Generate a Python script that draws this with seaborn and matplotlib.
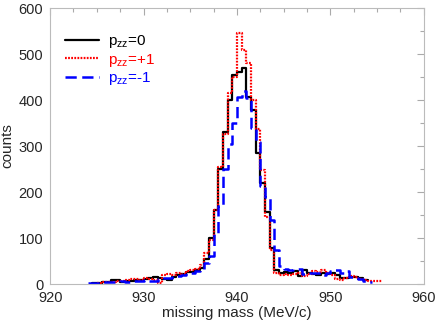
import numpy as np
import pandas as pd
import matplotlib
matplotlib.use("Agg")
import matplotlib.pyplot as plt
import seaborn as sns
from matplotlib.lines import Line2D

# ---- data (0.5 MeV bins) ----
bin_width = 0.5
black_start = 924.5
black_counts = [3, 3, 4, 5, 8, 9, 5, 6, 7, 8, 9, 10, 13, 15, 12, 11, 9, 16, 19, 22,
                27, 26, 30, 35, 55, 100, 160, 250, 330, 400, 455, 460, 469, 407, 378,
                284, 219, 157, 78, 30, 25, 27, 25, 28, 18, 30, 25, 22, 20, 24, 22, 23,
                20, 12, 12, 16, 15, 14, 8]
red_start = 925.0
red_counts = [3, 4, 5, 5, 6, 6, 8, 10, 10, 9, 12, 10, 8, 3, 20, 22, 20, 24, 22, 28,
              30, 32, 42, 67, 95, 160, 255, 327, 416, 449, 546, 508, 481, 400, 338,
              248, 146, 74, 25, 20, 22, 20, 22, 25, 18, 22, 28, 26, 30, 25, 20, 10,
              8, 12, 18, 16, 10, 8, 6, 6, 6]
blue_start = 924.0
blue_counts = [2, 3, 3, 4, 5, 5, 5, 7, 5, 6, 7, 6, 8, 6, 7, 10, 12, 13, 16, 17, 20,
               24, 25, 28, 30, 45, 60, 110, 170, 250, 305, 349, 407, 420, 405, 340,
               309, 214, 189, 139, 74, 40, 32, 30, 33, 32, 22, 25, 23, 25, 20, 25, 28,
               30, 24, 28, 15, 12, 10, 6, 4]
labels = ["p$_{\\mathregular{zz}}$=0", "p$_{\\mathregular{zz}}$=+1", "p$_{\\mathregular{zz}}$=-1"]
colors = ["#000000", "#ff0000", "#0000ff"]

xticks = [920, 930, 940, 950, 960]
yticks = [0, 100, 200, 300, 400, 500, 600]

sns.set_theme(style="white")
plt.rcParams["font.family"] = ["Liberation Sans", "DejaVu Sans"]
plt.rcParams["mathtext.fontset"] = "custom"
plt.rcParams["mathtext.rm"] = "Liberation Sans"
plt.rcParams["mathtext.it"] = "Liberation Sans"

fig = plt.figure(figsize=(4.36, 3.22), dpi=100)
ax = fig.add_axes([0.115, 0.118, 0.857, 0.857])

series = [
    (black_start, black_counts, colors[0], "-", 1.6),
    (red_start, red_counts, colors[1], (0, (0.8, 0.6)), 1.6),
    (blue_start, blue_counts, colors[2], (0, (4.5, 2.2)), 1.8),
]
handles = []
for (start, counts, col, ls, lw), lab in zip(series, labels):
    n = len(counts)
    centers = start + bin_width * (np.arange(n) + 0.5)
    df = pd.DataFrame({"mass": centers, "counts": np.asarray(counts, dtype=float)})
    sns.histplot(data=df, x="mass", weights="counts", binwidth=bin_width,
                 binrange=(start, start + bin_width * n), element="step",
                 fill=False, color=col, linestyle=ls, linewidth=lw, ax=ax)
    handles.append(Line2D([], [], color=col, linestyle=ls, linewidth=lw, label=lab))

ax.set_xlim(920, 960)
ax.set_ylim(0, 600)
ax.set_xticks(xticks)
ax.set_yticks(yticks)
ax.set_xticks(np.arange(920, 960.1, 2.5), minor=True)
ax.set_yticks(np.arange(0, 600.1, 50), minor=True)
ax.tick_params(which="both", direction="in", top=True, right=True, color="#aaaaaa",
               labelsize=10.5)
ax.tick_params(axis="x", which="major", pad=5)
ax.tick_params(axis="y", which="major", pad=5)
ax.tick_params(which="major", length=5, width=0.8)
ax.tick_params(which="minor", length=3, width=0.8)
for s in ax.spines.values():
    s.set_color("#bbbbbb")
    s.set_linewidth(0.8)
ax.set_xlabel("missing mass (MeV/c)", fontsize=11, labelpad=1)
ax.set_ylabel("counts", fontsize=11, labelpad=3)

leg = ax.legend(handles=handles, loc="upper left", bbox_to_anchor=(0.0, 0.965),
                frameon=False, fontsize=11, handlelength=2.2, handletextpad=0.6,
                labelspacing=0.1, borderaxespad=0.6)
for t, c in zip(leg.get_texts(), colors):
    t.set_color(c)

fig.savefig("out.png", dpi=100)
